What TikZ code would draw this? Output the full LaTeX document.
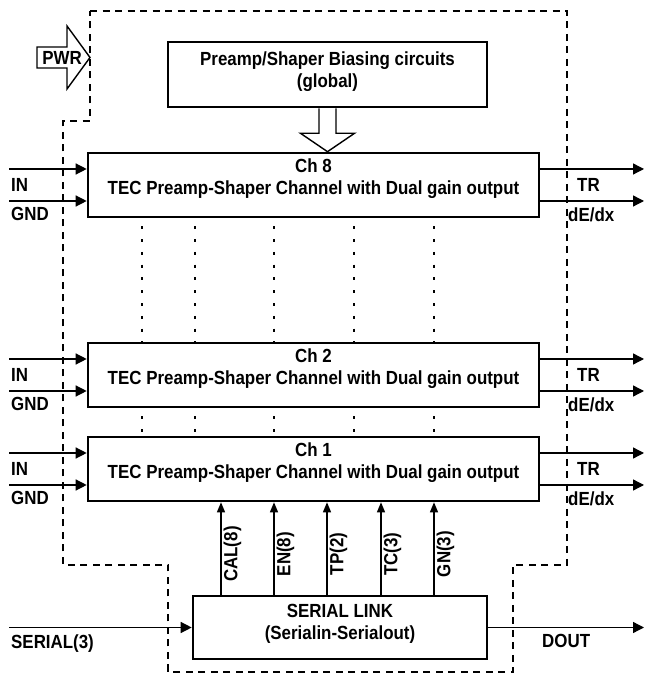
\documentclass[tikz,border=0pt]{standalone}
\usepackage{fontspec}
\setmainfont{Liberation Sans}[FakeStretch=0.89]
\usetikzlibrary{arrows.meta,calc}

\begin{document}
\begin{tikzpicture}[x=1pt,y=1pt,
    font=\fontsize{19}{22}\selectfont\bfseries,
    blockbox/.style={draw, line width=2.6pt, inner sep=0pt},
    chbox/.style={blockbox, minimum width=451pt, minimum height=64pt},
    sig/.style={line width=1.3pt, -{Triangle[length=11pt,width=11pt]}},
    ctl/.style={line width=1.3pt, -{Triangle[length=10pt,width=8pt]}},
    hollow/.style={line width=1.4pt, fill=white},
    lbl/.style={inner sep=0pt, anchor=west},
    dots/.style={line width=1.2pt, dash pattern=on 3pt off 9.8pt, dash phase=4.8pt},
    boundary/.style={line width=1.3pt, dash pattern=on 7pt off 5.5pt}]
  \useasboundingbox (0,0) rectangle (645,677);

  % chip boundary
  \draw[boundary] (90,666) -- (567,666) -- (567,112) -- (513,112) -- (513,5)
    -- (168,5) -- (168,112) -- (63,112) -- (63,556) -- (90,556) -- cycle;

  % power input
  \draw[hollow] (37,609) -- (67,609) -- (67,588) -- (90,619.5) -- (67,651)
    -- (67,630) -- (37,630) -- cycle;
  \node (pwr) at (62,619.5) {PWR};

  % biasing block
  \node[blockbox, minimum width=319pt, minimum height=65pt] (bias) at (327.5,602.5) {};
  \node[align=center] (biastext) at ([yshift=3]bias.center)
    {Preamp/Shaper Biasing circuits\\(global)};

  % channels
  \foreach \ch/\yc in {8/492, 2/302, 1/208} {
    \node[chbox] (ch\ch) at (313.5,\yc) {};
    \node[align=center] (lab\ch) at ([yshift=6]ch\ch.center)
      {Ch \ch\\TEC Preamp-Shaper Channel with Dual gain output};
    \coordinate (in\ch) at (9,\yc+16);
    \coordinate (gnd\ch) at (9,\yc-16);
    \draw[sig] (in\ch) -- (in\ch -| ch\ch.west);
    \draw[sig] (gnd\ch) -- (gnd\ch -| ch\ch.west);
    \node[lbl] at (11,\yc) {IN};
    \node[lbl] at (11,\yc-29) {GND};
    \coordinate (tr\ch) at (644,\yc+16);
    \coordinate (de\ch) at (644,\yc-16);
    \draw[sig] (ch\ch.east |- tr\ch) -- (tr\ch);
    \draw[sig] (ch\ch.east |- de\ch) -- (de\ch);
    \node[lbl] at (577,\yc) {TR};
    \node[lbl] at (568,\yc-30) {dE/dx};
  }

  % bias to channels
  \draw[hollow] ($(bias.south)+(-8.5,0)$) -- ++(0,-25) -- ++(-18.5,0)
    -- (bias.south |- ch8.north) -- ($(bias.south)+(27,-25)$) -- ++(-18.5,0)
    -- ($(bias.south)+(8.5,0)$);

  % omitted channels
  \foreach \x in {142,195,274,354,434} {
    \draw[dots] (\x,0 |- ch8.south) -- (\x,0 |- ch2.north);
    \draw[dots] (\x,0 |- ch2.south) -- (\x,0 |- ch1.north);
  }

  % serial link
  \node[blockbox, minimum width=294pt, minimum height=63pt] (serial) at (340,49.5) {};
  \node[align=center] (serialtext) at ([yshift=4]serial.center)
    {SERIAL LINK\\(Serialin-Serialout)};
  \coordinate (sin) at (9,49.5);
  \coordinate (dout) at (644,49.5);
  \draw[sig] (sin) -- (serial.west);
  \draw[sig] (serial.east) -- (dout);
  \node[lbl] at (11,33) {SERIAL(3)};
  \node[lbl] at (542,36) {DOUT};

  % control lines
  \foreach \x/\name in {221/CAL(8),274/EN(8),327/TP(2),381/TC(3),434/GN(3)}
    \draw[ctl] (\x,0 |- serial.north) -- (\x,0 |- ch1.south)
      node[pos=0.44, rotate=90, anchor=north, inner sep=2pt] {\name};
\end{tikzpicture}
\end{document}
